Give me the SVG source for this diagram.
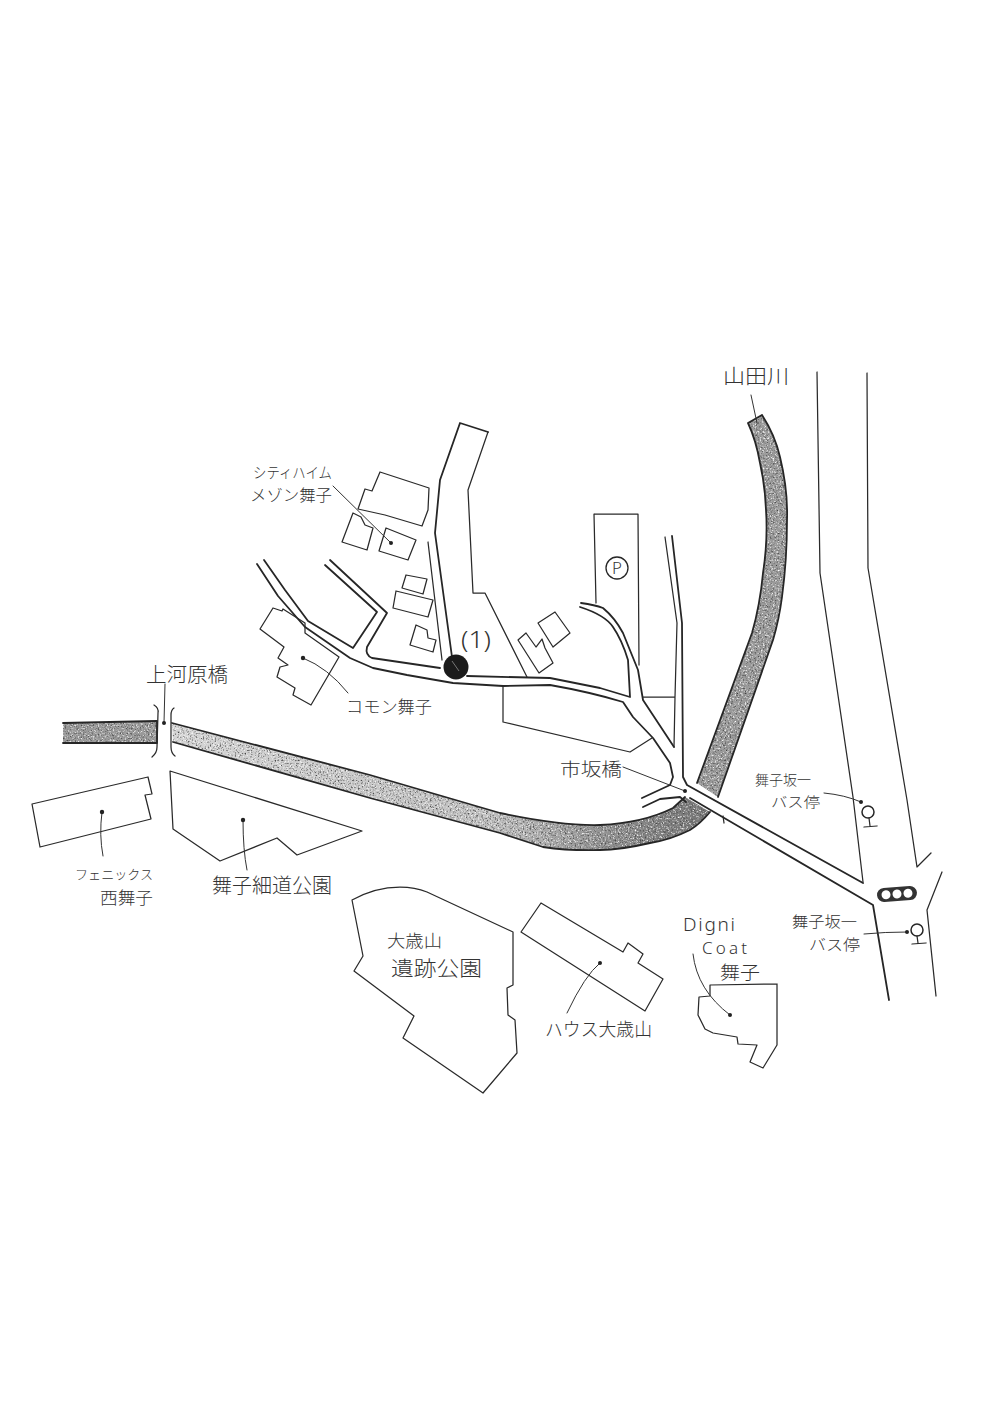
<svg xmlns="http://www.w3.org/2000/svg" width="1000" height="1414" viewBox="0 0 1000 1414">
<style>
.l{fill:none;stroke:#2a2a2a;stroke-width:1.25;stroke-linejoin:round;stroke-linecap:round}
.b{fill:none;stroke:#262626;stroke-width:1.8;stroke-linejoin:round;stroke-linecap:round}
.t{fill:none;stroke:#333;stroke-width:1;stroke-linecap:round}
.d{fill:#222}
.x{font-family:"Noto Sans CJK JP","Liberation Sans",sans-serif;font-weight:300;fill:#333;text-anchor:start}
.riv{stroke:none}
</style>
<defs>
<linearGradient id="eastFill" gradientUnits="userSpaceOnUse" x1="172" y1="0" x2="700" y2="0">
<stop offset="0" stop-color="#d4d4d4"/><stop offset="0.6" stop-color="#c0c0c0"/><stop offset="0.85" stop-color="#8a8a8a"/><stop offset="1" stop-color="#777"/>
</linearGradient>
<filter id="grain" x="0" y="0" width="100%" height="100%" color-interpolation-filters="sRGB">
<feTurbulence type="fractalNoise" baseFrequency="0.6" numOctaves="2" seed="4" result="n"/>
<feColorMatrix in="n" type="matrix" values="0 0 0 0 0.25  0 0 0 0 0.25  0 0 0 0 0.25  3 0 0 0 -1.6" result="dk"/>
<feColorMatrix in="n" type="matrix" values="0 0 0 0 1  0 0 0 0 1  0 0 0 0 1  0 -3 0 0 1.45" result="wt"/>
<feComposite in="dk" in2="SourceAlpha" operator="in" result="dkc"/>
<feComposite in="wt" in2="SourceAlpha" operator="in" result="wtc"/>
<feMerge><feMergeNode in="SourceGraphic"/><feMergeNode in="wtc"/><feMergeNode in="dkc"/></feMerge>
</filter>
</defs>
<rect width="1000" height="1414" fill="#fff"/>

<g id="rivers">
<g filter="url(#grain)">
<path id="river-yamada" class="riv" fill="#9a9a9a" d="M748 423L762 415Q775 435 780 457Q788 490 787 520Q787 560 782 597Q779 620 773 640L718 797L697 783L752 633Q760 605 763 573Q768 540 766 510Q765 485 760 463Q756 440 748 423Z"/>
<path id="river-west" class="riv" fill="#999" d="M63 723L157 721V743H63Z"/>
<path id="river-east" class="riv" fill="url(#eastFill)" d="M172 723L370 775L500 813Q560 826 600 825Q643 823 673 808L685 797L710 812Q700 824 690 830Q670 840 650 843Q620 850 600 850Q570 851 543 847L500 833L370 798L173 742Z"/>
</g>
<path class="b" d="M748 423L762 415M762 415Q775 435 780 457Q788 490 787 520Q787 560 782 597Q779 620 773 640L718 797M748 423Q756 440 760 463Q765 485 766 510Q768 540 763 573Q760 605 752 633L697 783"/>
<path class="b" d="M63 723L157 721M63 743H157M157 721V743"/>
<path class="b" d="M172 723L370 775L500 813Q560 826 600 825Q643 823 673 808L685 797M173 742L370 798L500 833L543 847Q570 851 600 850Q620 850 650 843Q670 840 690 830Q700 824 710 812"/>
</g>

<g id="connectors">
<path class="b" d="M460 423L488 432M460 423L440 480L435 533L452 657"/>
<path class="l" d="M488 432L468 490L473 593H485L527 677"/>
<path class="l" d="M428 542L442 660"/>
<path class="b" d="M257 564L278 596L305 627L350 658L373 668L407 675L453 683L503 686L550 685Q590 692 623 702L633 717L653 738L670 763L673 777L670 785L642 798"/>
<path class="b" d="M467 676L550 678L600 688L630 697L628 660Q622 640 613 627Q605 615 580 607"/>
<path class="b" d="M581 603Q595 605 603 608Q615 618 623 633L638 670L643 700L674 747"/>
<path class="b" d="M643 807L660 799L680 797L686 802"/>
<path class="b" d="M264 560L285 590L308 621L353 648L377 612L325 565"/>
<path class="b" d="M330 560L387 613L367 647Q365 655 372 658L440 668"/>
<path class="l" d="M503 686V722L630 752L652 738"/>
<path class="l" d="M594 514H638L639 665M594 514L596 603"/>
<path class="l" d="M643 697H675M675 697L674 747M665 537L677 623L675 697"/>
<path class="b" d="M672 536L682 623L683 777L687 785L863 883M690 798L873 905L889 1000"/>
<path class="l" d="M723 816L724 823"/>
<path class="l" d="M817 372L820 573L853 797L863 882M867 373L868 568L907 800L917 867L931 853"/>
<path class="l" d="M942 872L927 910L936 996"/>
<path class="l" d="M154 705Q159 708 158 713L157 747Q157 753 152 757M174 708Q171 710 171 715V747Q171 753 175 756"/>
</g>

<g id="station"><circle cx="456" cy="667" r="12.5" fill="#1b1b1b"/><path d="M452 661L459 671" stroke="#777" stroke-width="1" fill="none"/><text x="461" y="648" font-family="'Noto Sans',sans-serif" font-weight="300" fill="#333" font-size="24" textLength="30" lengthAdjust="spacingAndGlyphs">(1)</text></g>

<g id="city-heim">
<path class="l" d="M380 472L429 488L428 510L422 526L385 515L358 509L365 489L372 491Z"/>
<path class="l" d="M353 513L361 517L365 525L373 528L367 550L342 542Z"/>
<path class="l" d="M386 528L416 540L408 560L379 551Z"/>
<path class="t" d="M333 486L391 543"/><circle class="d" cx="391" cy="543" r="2"/>
<text class="x" x="253" y="478" font-size="15" textLength="79" lengthAdjust="spacingAndGlyphs">シティハイム</text>
<text class="x" x="250" y="501" font-size="16" textLength="82" lengthAdjust="spacingAndGlyphs">メゾン舞子</text>
</g>
<g id="bld-d"><path class="l" d="M406 575L427 579L423 594L402 588Z"/></g>
<g id="bld-e"><path class="l" d="M396 591L433 600L428 617L393 608Z"/></g>
<g id="bld-f"><path class="l" d="M416 625L427 630L428 638L436 640L433 652L410 645Z"/></g>
<g id="bld-g"><path class="l" d="M555 612L570 633L553 647L538 623Z"/></g>
<g id="bld-h"><path class="l" d="M526 633L536 647L542 639L545 648L553 663L539 673L518 640Z"/></g>

<g id="parking"><circle cx="617" cy="568" r="11" fill="none" stroke="#262626" stroke-width="1.3"/><text class="x" x="612" y="574" font-size="16">P</text></g>

<g id="common">
<path class="l" d="M273 608L282 611L283 609L305 623V633L339 657L311 705L293 695L295 688L277 677L280 667L288 665L278 658L284 647L260 629Z"/>
<path class="t" d="M303 658Q328 668 348 693"/><circle class="d" cx="303" cy="658" r="2.2"/>
<text class="x" x="346" y="713" font-size="17" textLength="86" lengthAdjust="spacingAndGlyphs">コモン舞子</text>
</g>

<g id="ichisaka">
<path class="t" d="M623 767L685 791"/><circle class="d" cx="685" cy="791" r="2"/>
<text class="x" x="560" y="776" font-size="18" textLength="62" lengthAdjust="spacingAndGlyphs">市坂橋</text>
</g>

<g id="yamada"><path class="t" d="M751 395L757 423"/><text class="x" x="723" y="384" font-size="20" textLength="66" lengthAdjust="spacingAndGlyphs">山田川</text></g>

<g id="kamikawara">
<path class="t" d="M165 684L164 723"/><circle class="d" cx="164" cy="723" r="2"/>
<text class="x" x="146" y="682" font-size="20" textLength="82" lengthAdjust="spacingAndGlyphs">上河原橋</text>
</g>

<g id="phoenix">
<path class="l" d="M32 804L148 777L152 794L145 795L151 819L40 847Z"/>
<path class="t" d="M102 812Q99 835 103 856"/><circle class="d" cx="102" cy="812" r="2.2"/>
<text class="x" x="75" y="879" font-size="13" textLength="78" lengthAdjust="spacingAndGlyphs">フェニックス</text>
<text class="x" x="100" y="904" font-size="17" textLength="53" lengthAdjust="spacingAndGlyphs">西舞子</text>
</g>

<g id="hosomichi-park">
<path class="l" d="M170 771L362 831L297 855L277 838L220 861L173 829Z"/>
<path class="t" d="M243 820Q243 850 247 870"/><circle class="d" cx="243" cy="820" r="2.2"/>
<text class="x" x="212" y="893" font-size="20" textLength="120" lengthAdjust="spacingAndGlyphs">舞子細道公園</text>
</g>

<g id="otoshiyama-park">
<path class="l" d="M352 900Q375 887 400 887Q415 887 427 892L513 932L513 985L507 988L508 1015L515 1020L517 1053L483 1093L403 1038L414 1016L354 971L363 956Z"/>
<text class="x" x="387" y="947" font-size="17" textLength="55" lengthAdjust="spacingAndGlyphs">大歳山</text>
<text class="x" x="391" y="976" font-size="20" textLength="91" lengthAdjust="spacingAndGlyphs">遺跡公園</text>
</g>

<g id="house-otoshiyama">
<path class="l" d="M541 903L623 952L628 943L643 954L638 963L663 979L645 1011L521 932Z"/>
<path class="t" d="M600 963Q585 975 567 1013"/><circle class="d" cx="600" cy="963" r="2"/>
<text class="x" x="545" y="1036" font-size="18" textLength="107" lengthAdjust="spacingAndGlyphs">ハウス大歳山</text>
</g>

<g id="digni">
<path class="l" d="M710 985L777 984L777 1045L763 1068L750 1062L757 1045L738 1044L737 1037L725 1035L713 1033L705 1029L698 1015L699 997L710 996Z"/>
<path class="t" d="M693 954Q697 990 730 1015"/><circle class="d" cx="730" cy="1015" r="2"/>
<text x="683" y="931" font-family="'Noto Sans',sans-serif" font-weight="300" font-size="19" fill="#333" textLength="52" lengthAdjust="spacing">Digni</text>
<text x="702" y="954" font-family="'Noto Sans',sans-serif" font-weight="300" font-size="17" fill="#333" textLength="45" lengthAdjust="spacing">Coat</text>
<text class="x" x="720" y="979" font-size="18" textLength="40" lengthAdjust="spacingAndGlyphs">舞子</text>
</g>

<g id="bus-stop-1">
<circle cx="868" cy="812" r="6" fill="none" stroke="#262626" stroke-width="1.5"/>
<path class="l" d="M869 818L870 826M864 827L877 826"/>
<path class="t" d="M824 793Q845 795 861 802"/><circle class="d" cx="861" cy="802" r="2"/>
<text class="x" x="755" y="785" font-size="14" textLength="56" lengthAdjust="spacingAndGlyphs">舞子坂一</text>
<text class="x" x="771" y="807" font-size="14" textLength="49" lengthAdjust="spacingAndGlyphs">バス停</text>
</g>

<g id="bus-stop-2">
<circle cx="917" cy="930" r="6" fill="none" stroke="#262626" stroke-width="1.5"/>
<path class="l" d="M917 936L918 943M912 944L926 943"/>
<path class="t" d="M864 934Q885 932 907 932"/><circle class="d" cx="907" cy="932" r="2"/>
<text class="x" x="792" y="927" font-size="15" textLength="65" lengthAdjust="spacingAndGlyphs">舞子坂一</text>
<text class="x" x="809" y="950" font-size="15" textLength="51" lengthAdjust="spacingAndGlyphs">バス停</text>
</g>

<g id="traffic-light" transform="rotate(-4 897 894)">
<rect x="877" y="887" width="40" height="14" rx="7" fill="#333"/>
<circle cx="886" cy="894" r="4.5" fill="#fff"/><circle cx="897" cy="894" r="4.5" fill="#fff"/><circle cx="908" cy="894" r="4.5" fill="#fff"/>
</g>
</svg>
